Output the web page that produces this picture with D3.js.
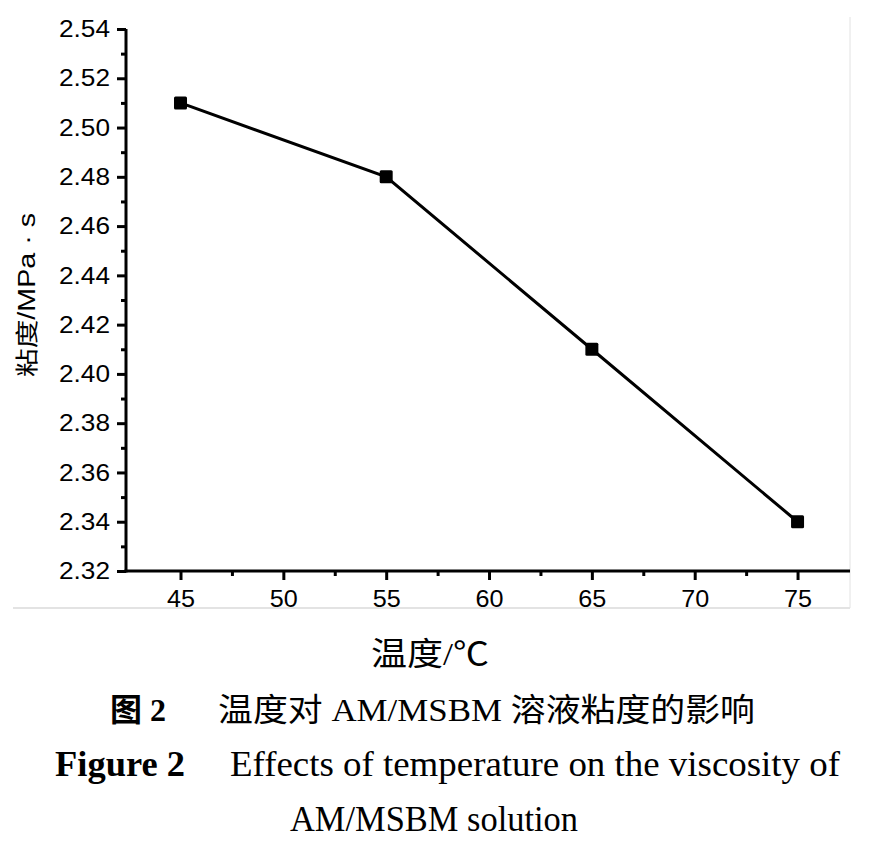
<!DOCTYPE html>
<html>
<head>
<meta charset="utf-8">
<script src="https://cdn.jsdelivr.net/npm/d3@7"></script>
<style>
html,body{margin:0;padding:0;background:#fff;}
svg{display:block;}
</style>
</head>
<body>
<svg id="chart" width="893" height="851"></svg>
<script>
const temperatures = [45, 55, 65, 75];
const viscosity = [2.51, 2.48, 2.41, 2.34];
const xTicks = [45, 50, 55, 60, 65, 70, 75];
const xMinorTicks = [47.5, 52.5, 57.5, 62.5, 67.5, 72.5];
const yTicks = [2.32, 2.34, 2.36, 2.38, 2.40, 2.42, 2.44, 2.46, 2.48, 2.50, 2.52, 2.54];
const yMinorTicks = [2.33, 2.35, 2.37, 2.39, 2.41, 2.43, 2.45, 2.47, 2.49, 2.51, 2.53];
const xTitle = "温度/℃";
const yTitle = "粘度/MPa · s";
const captionCN = ["图 2", "温度对 AM/MSBM 溶液粘度的影响"];
const captionEN = ["Figure 2", "Effects of temperature on the viscosity of", "AM/MSBM solution"];

const svg = d3.select("#chart");
const x = d3.scaleLinear().domain([42.35, 77.55]).range([126, 850]);
const y = d3.scaleLinear().domain([2.32, 2.54]).range([571, 29]);

// frame gray lines
svg.append("line").attr("x1", 13).attr("x2", 850).attr("y1", 608).attr("y2", 608)
  .attr("stroke", "#c8c8c8").attr("stroke-width", 1.2);
svg.append("line").attr("x1", 850).attr("x2", 850).attr("y1", 17).attr("y2", 608)
  .attr("stroke", "#e2e2e2").attr("stroke-width", 1);

const sans = "'Liberation Sans', Arial, sans-serif";

// Y axis
const yAxis = d3.axisLeft(y).tickValues(yTicks).tickFormat(d3.format(".2f")).tickSize(9).tickPadding(7);
const gy = svg.append("g").attr("transform", "translate(126,0)").call(yAxis);
gy.select(".domain").attr("stroke", "#000").attr("stroke-width", 3).attr("d", `M0,${y(2.32)+1.5}V${y(2.54)}`);
gy.selectAll(".tick line").attr("stroke", "#000").attr("stroke-width", 3);
gy.selectAll(".tick text").attr("font-family", sans).attr("font-size", 24).attr("fill", "#000")
  .attr("textLength", 51).attr("lengthAdjust", "spacingAndGlyphs");
const gyMinor = svg.append("g").attr("transform", "translate(126,0)")
  .call(d3.axisLeft(y).tickValues(yMinorTicks).tickSize(5).tickFormat(""));
gyMinor.select(".domain").remove();
gyMinor.selectAll(".tick line").attr("stroke", "#000").attr("stroke-width", 3);

// X axis
const xAxis = d3.axisBottom(x).tickValues(xTicks).tickFormat(d3.format("d")).tickSize(9).tickPadding(10);
const gx = svg.append("g").attr("transform", "translate(0,571)").call(xAxis);
gx.select(".domain").attr("stroke", "#000").attr("stroke-width", 3).attr("d", `M${x(42.35)-1.5},0H${x(77.55)}`);
gx.selectAll(".tick line").attr("stroke", "#000").attr("stroke-width", 3);
gx.selectAll(".tick text").attr("font-family", sans).attr("font-size", 24).attr("fill", "#000")
  .attr("textLength", 28).attr("lengthAdjust", "spacingAndGlyphs");
const gxMinor = svg.append("g").attr("transform", "translate(0,571)")
  .call(d3.axisBottom(x).tickValues(xMinorTicks).tickSize(5).tickFormat(""));
gxMinor.select(".domain").remove();
gxMinor.selectAll(".tick line").attr("stroke", "#000").attr("stroke-width", 3);

// line
const data = temperatures.map((t, i) => ({t, v: viscosity[i]}));
svg.append("path").datum(data)
  .attr("fill", "none").attr("stroke", "#000").attr("stroke-width", 3)
  .attr("d", d3.line().x(d => x(d.t)).y(d => y(d.v)));
svg.selectAll("rect.m").data(data).enter().append("rect").attr("class", "m")
  .attr("x", d => x(d.t) - 6.5).attr("y", d => y(d.v) - 6.5)
  .attr("width", 13).attr("height", 13).attr("rx", 1.5).attr("fill", "#000");

// Y title
svg.append("text")
  .attr("transform", "translate(35,295) rotate(-90)")
  .attr("text-anchor", "middle")
  .attr("font-family", "'Liberation Sans', 'Noto Sans CJK SC', sans-serif")
  .attr("font-size", 23).attr("fill", "#000")
  .attr("textLength", 164).attr("lengthAdjust", "spacingAndGlyphs")
  .text(yTitle);

// X title
const serifCN = "'Liberation Serif', 'Noto Sans CJK SC', serif";
svg.append("text").attr("x", 430).attr("y", 665).attr("text-anchor", "middle")
  .attr("font-family", serifCN).attr("font-size", 32).attr("fill", "#000")
  .attr("textLength", 118).attr("lengthAdjust", "spacingAndGlyphs")
  .text(xTitle);

// captions
svg.append("text").attr("x", 110).attr("y", 721)
  .attr("font-family", serifCN).attr("font-size", 32).attr("font-weight", "bold").attr("fill", "#000")
  .text(captionCN[0]);
svg.append("text").attr("x", 218).attr("y", 721)
  .attr("font-family", serifCN).attr("font-size", 32).attr("fill", "#000")
  .attr("textLength", 537).attr("lengthAdjust", "spacingAndGlyphs")
  .text(captionCN[1]);
svg.append("text").attr("x", 55).attr("y", 776)
  .attr("font-family", serifCN).attr("font-size", 35).attr("font-weight", "bold").attr("fill", "#000")
  .attr("textLength", 130).attr("lengthAdjust", "spacingAndGlyphs")
  .text(captionEN[0]);
svg.append("text").attr("x", 230).attr("y", 776)
  .attr("font-family", serifCN).attr("font-size", 35).attr("fill", "#000")
  .attr("textLength", 610).attr("lengthAdjust", "spacingAndGlyphs")
  .text(captionEN[1]);
svg.append("text").attr("x", 434).attr("y", 831).attr("text-anchor", "middle")
  .attr("font-family", serifCN).attr("font-size", 35).attr("fill", "#000")
  .attr("textLength", 288).attr("lengthAdjust", "spacingAndGlyphs")
  .text(captionEN[2]);
</script>
</body>
</html>
